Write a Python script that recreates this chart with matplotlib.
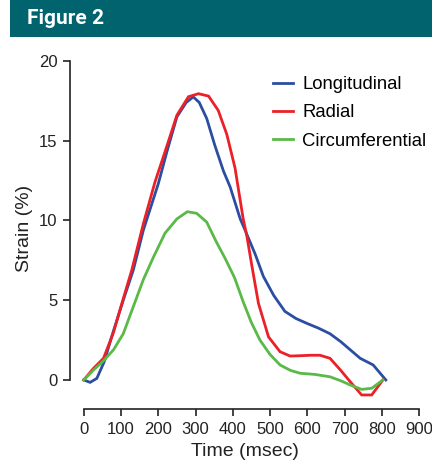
import matplotlib
matplotlib.use("Agg")
import matplotlib.pyplot as plt
from matplotlib.patches import Rectangle

plt.rcParams['font.family'] = ['Liberation Sans', 'DejaVu Sans']

# Strain curves (time in msec, strain in %)
long_t = [0, 17, 35, 55, 80, 106, 133, 160, 200, 223, 250, 275, 294, 310, 330, 352, 375, 393,
          420, 433, 460, 482, 510, 540, 570, 599, 630, 661, 690, 715, 742, 777, 811]
long_s = [0, -0.15, 0.1, 1.15, 3.1, 5.0, 6.9, 9.4, 12.3, 14.3, 16.5, 17.4, 17.75, 17.4, 16.4, 14.7,
          13.1, 12.1, 10.1, 9.4, 7.9, 6.5, 5.3, 4.3, 3.85, 3.55, 3.25, 2.9, 2.4, 1.9, 1.36, 0.94, 0]

rad_t = [0, 25, 53, 80, 106, 129, 160, 191, 218, 250, 281, 308, 335, 361, 384, 406, 428, 438,
         451, 469, 496, 527, 554, 580, 610, 634, 661, 690, 715, 746, 773, 803]
rad_s = [0, 0.7, 1.36, 3.0, 5.1, 6.9, 9.8, 12.4, 14.3, 16.6, 17.76, 17.95, 17.8, 16.9, 15.4, 13.3,
         10.1, 9.0, 7.2, 4.8, 2.7, 1.77, 1.5, 1.52, 1.55, 1.55, 1.36, 0.6, -0.1, -0.94, -0.94, 0]

circ_t = [0, 25, 53, 80, 106, 133, 160, 187, 218, 250, 278, 303, 330, 355, 380, 405, 428, 450,
          473, 500, 527, 555, 581, 620, 661, 690, 715, 746, 773, 803]
circ_s = [0, 0.6, 1.2, 1.9, 2.9, 4.6, 6.3, 7.7, 9.2, 10.1, 10.55, 10.45, 9.9, 8.7, 7.6, 6.4, 4.9,
          3.6, 2.5, 1.6, 0.94, 0.6, 0.42, 0.35, 0.2, -0.05, -0.31, -0.59, -0.52, 0]

series = [("Longitudinal", long_t, long_s, "#2b4ea2"),
          ("Radial", rad_t, rad_s, "#ec2027"),
          ("Circumferential", circ_t, circ_s, "#5ab947")]

W, H = 432, 462
fig = plt.figure(figsize=(W / 100, H / 100), dpi=100)

# header banner
fig.patches.append(Rectangle((10 / W, 1 - 37 / H), 1, 37 / H, transform=fig.transFigure,
                             facecolor="#00636e", edgecolor="none"))
fig.text(27 / W, 1 - 18.5 / H, "Figure 2", color="white", fontsize=15, fontweight="bold",
         family=["Roboto", "DejaVu Sans"], va="center", ha="left")

ax = fig.add_axes([70 / W, 1 - 409 / H, 349 / W, 348 / H])
for name, t, s, c in series:
    ax.plot(t, s, color=c, lw=2.0, label=name, solid_joinstyle="miter")

ax.set_xlim(-37, 900)
ax.set_ylim(-1.82, 20)
ax.set_xticks(range(0, 901, 100))
ax.set_yticks([0, 5, 10, 15, 20])
for side in ["top", "right"]:
    ax.spines[side].set_visible(False)
ax.spines["left"].set_bounds(0, 20)
ax.spines["bottom"].set_bounds(0, 900)
for side in ["left", "bottom"]:
    ax.spines[side].set_linewidth(1.2)
    ax.spines[side].set_color("#222222")
ax.tick_params(direction="out", length=5, width=1.2, colors="#222222", labelsize=12,
               labelcolor="#222222", pad=4)
ax.set_xlabel("Time (msec)", fontsize=14, color="#222222", labelpad=5)
ax.set_ylabel("Strain (%)", fontsize=14, color="#222222")
ax.yaxis.set_label_coords(-37 / 349, 0.52)

ax.legend(loc="upper left", bbox_to_anchor=(273 / W, 1 - 76 / H), bbox_transform=fig.transFigure,
          frameon=False, fontsize=13.3, handlelength=1.08, handletextpad=0.5,
          labelspacing=0.62, borderpad=0, borderaxespad=0)

fig.savefig("out.png", dpi=100)
